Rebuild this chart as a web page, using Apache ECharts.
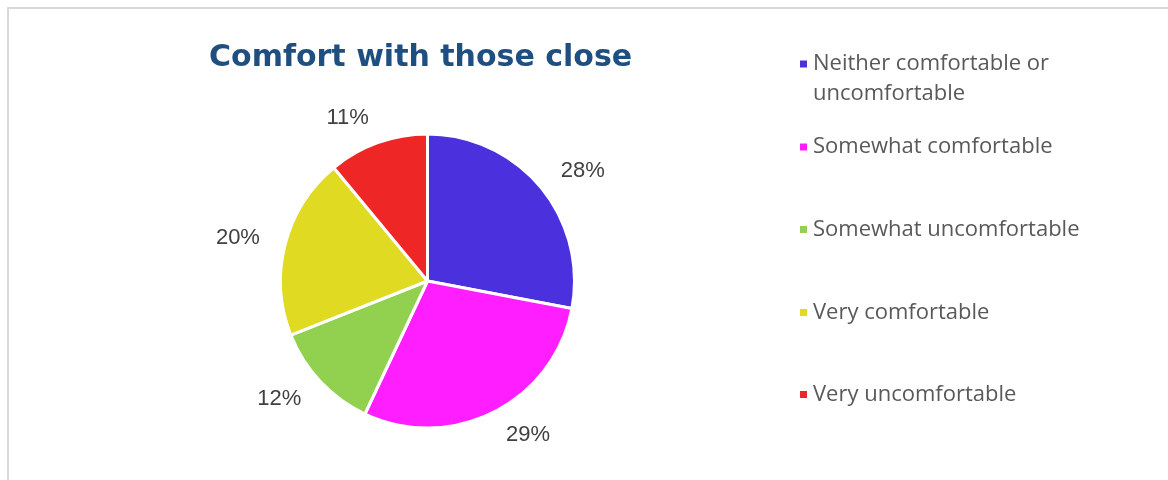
<!DOCTYPE html>
<html>
<head>
<meta charset="utf-8">
<title>Comfort with those close</title>
<script src="https://cdn.jsdelivr.net/npm/echarts@6/dist/echarts.min.js"></script>
<style>
  html, body { margin: 0; padding: 0; background: #ffffff; }
  #chart { width: 1168px; height: 480px; }
</style>
</head>
<body>
<div id="chart"></div>
<script>
// Survey answers and their shares (percent)
const categories = [
  'Neither comfortable or uncomfortable',
  'Somewhat comfortable',
  'Somewhat uncomfortable',
  'Very comfortable',
  'Very uncomfortable'
];
const shares = [28, 29, 12, 20, 11];
const sliceColors = ['#4B30DD', '#FF1EFF', '#92D050', '#E0DA22', '#EE2626'];

const titleText = 'Comfort with those close';

// One legend block per answer so each row sits at its own height
const legendTops = [19, 132, 214.5, 297.5, 379.5];

const legendFont = {
  color: '#595959',
  fontFamily: 'Open Sans',
  fontSize: 22,
  lineHeight: 30,
  width: 280,
  overflow: 'break'
};

const legends = categories.map(function (name, i) {
  const block = {
    data: [name],
    orient: 'vertical',
    left: 798,
    top: legendTops[i],
    padding: 0,
    itemWidth: 9,
    itemHeight: 9,
    icon: 'rect',
    textStyle: Object.assign({}, legendFont)
  };
  // wrapped entry: an empty leading line keeps the marker level with the first text line
  if (i === 0) {
    block.formatter = function (n) { return '\n' + n; };
  }
  return block;
});

const chart = echarts.init(document.getElementById('chart'), null, { renderer: 'canvas' });

chart.setOption({
  animation: false,
  backgroundColor: '#ffffff',
  title: {
    text: titleText,
    left: 209,
    top: 43,
    padding: 0,
    textStyle: {
      color: '#1F4E80',
      fontFamily: 'DejaVu Sans',
      fontWeight: 'bold',
      fontSize: 30
    }
  },
  graphic: [{
    type: 'rect',
    silent: true,
    z: -1,
    shape: { x: 8, y: 8, width: 1200, height: 520 },
    style: { fill: 'none', stroke: '#D9D9D9', lineWidth: 2 }
  }],
  legend: legends,
  series: [{
    type: 'pie',
    center: [427.5, 281],
    radius: [0, 147],
    startAngle: 90,
    clockwise: true,
    avoidLabelOverlap: false,
    color: sliceColors,
    itemStyle: { borderColor: '#ffffff', borderWidth: 3 },
    label: {
      show: true,
      position: 'outside',
      formatter: '{c}%',
      color: '#404040',
      fontFamily: 'Liberation Sans',
      fontSize: 22,
      distanceToLabelLine: 0
    },
    labelLine: { show: false, length: 26, length2: 0 },
    emphasis: { scale: false },
    data: categories.map(function (name, i) {
      return { name: name, value: shares[i] };
    })
  }]
});
</script>
</body>
</html>
